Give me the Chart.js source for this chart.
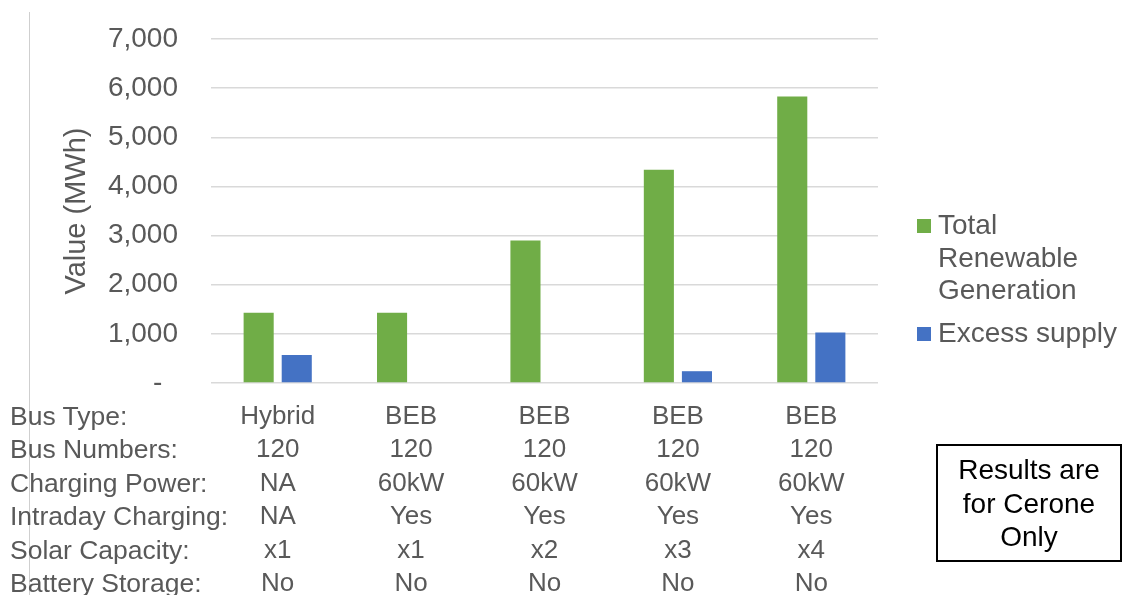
<!DOCTYPE html>
<html>
<head>
<meta charset="utf-8">
<script src="https://cdn.jsdelivr.net/npm/chart.js@4/dist/chart.umd.min.js"></script>
<style>
  html, body { margin: 0; padding: 0; background: #fff; }
  body { width: 1124px; height: 595px; position: relative; overflow: hidden; font-family: "Liberation Sans", Arial, sans-serif; }
  #myChart { position: absolute; left: 0; top: 0; }
  .vline { position: absolute; left: 29px; top: 12px; width: 1px; height: 583px; background: #cfcfcf; }
  #rowLabels { position: absolute; left: 10px; top: 400px; font-size: 26.5px; line-height: 33.4px; color: #595959; white-space: nowrap; }
  #legend { position: absolute; left: 917px; top: 209px; width: 206px; font-size: 28px; line-height: 32.5px; color: #595959; }
  .legItem { position: relative; padding-left: 21px; margin-bottom: 10px; }
  .legItem span.box { position: absolute; left: 0; top: 10px; width: 14px; height: 14px; }
  #note { position: absolute; left: 936px; top: 444px; width: 186px; height: 118px; border: 2.5px solid #000; box-sizing: border-box;
          font-size: 28px; line-height: 33.5px; color: #000; text-align: center; padding-top: 7px; }
</style>
</head>
<body>
<div class="vline"></div>
<canvas id="myChart" width="1124" height="595"></canvas>
<div id="rowLabels"></div>
<div id="legend"></div>
<div id="note">Results are<br>for Cerone<br>Only</div>
<script>
// podaci sa slike
const busType = ['Hybrid', 'BEB', 'BEB', 'BEB', 'BEB'];
const busNumbers = ['120', '120', '120', '120', '120'];
const chargingPower = ['NA', '60kW', '60kW', '60kW', '60kW'];
const intradayCharging = ['NA', 'Yes', 'Yes', 'Yes', 'Yes'];
const solarCapacity = ['x1', 'x1', 'x2', 'x3', 'x4'];
const batteryStorage = ['No', 'No', 'No', 'No', 'No'];

const rowNames = ['Bus Type:', 'Bus Numbers:', 'Charging Power:', 'Intraday Charging:', 'Solar Capacity:', 'Battery Storage:'];

const totalRenewable = [1430, 1430, 2900, 4340, 5830];
const excessSupply = [570, 0, 0, 240, 1030];

const yTicks = [0, 1000, 2000, 3000, 4000, 5000, 6000, 7000];

// svaka kategorija je jedna kolona tabele
const labels = busType.map((t, i) => [t, busNumbers[i], chargingPower[i], intradayCharging[i], solarCapacity[i], batteryStorage[i]]);

const gray = '#595959';

const data = {
    labels,
    datasets: [{
        label: 'Total Renewable Generation',
        data: totalRenewable,
        backgroundColor: '#70AD47',
        categoryPercentage: 0.571,
        barPercentage: 0.79
    }, {
        label: 'Excess supply',
        data: excessSupply,
        backgroundColor: '#4472C4',
        categoryPercentage: 0.571,
        barPercentage: 0.79
    }]
};

const config = {
    type: 'bar',
    data,
    options: {
        responsive: false,
        animation: false,
        events: [],
        layout: { padding: { left: 0, right: 246, top: 39, bottom: 0 } },
        plugins: {
            legend: { display: false },
            tooltip: { enabled: false }
        },
        scales: {
            x: {
                grid: { display: false, drawTicks: false },
                border: { display: false },
                ticks: {
                    color: gray,
                    padding: 17,
                    maxRotation: 0,
                    autoSkip: false,
                    font: { family: 'Liberation Sans', size: 26, lineHeight: 1.285 }
                },
                afterFit: (scale) => { scale.height = 212; }
            },
            y: {
                min: 0,
                max: 7000,
                grid: { color: '#d9d9d9', lineWidth: 1.5, drawTicks: false },
                border: { display: false },
                afterBuildTicks: (scale) => { scale.ticks = yTicks.map(v => ({ value: v })); },
                ticks: {
                    color: gray,
                    padding: 33,
                    font: { family: 'Liberation Sans', size: 28 },
                    callback: (v) => v === 0 ? '-\u2007' : v.toLocaleString('en-US')
                },
                title: {
                    display: true,
                    text: 'Value (MWh)',
                    color: gray,
                    font: { family: 'Liberation Sans', size: 29 },
                    padding: { top: 60, bottom: 0 }
                },
                afterFit: (scale) => {
                    scale.width = 211;
                    // tick padding ne treba da pomera vrh grafika
                    scale.paddingTop = 0;
                    scale.paddingBottom = 0;
                }
            }
        }
    }
};

//render
const myChart = new Chart(document.getElementById('myChart'), config);

// nazivi redova tabele
document.getElementById('rowLabels').innerHTML = rowNames.join('<br>');

// legenda sa prelomom teksta
const legend = document.getElementById('legend');
myChart.data.datasets.forEach(ds => {
    const item = document.createElement('div');
    item.className = 'legItem';
    item.innerHTML = '<span class="box" style="background:' + ds.backgroundColor + '"></span>' + ds.label;
    legend.appendChild(item);
});
</script>
</body>
</html>
